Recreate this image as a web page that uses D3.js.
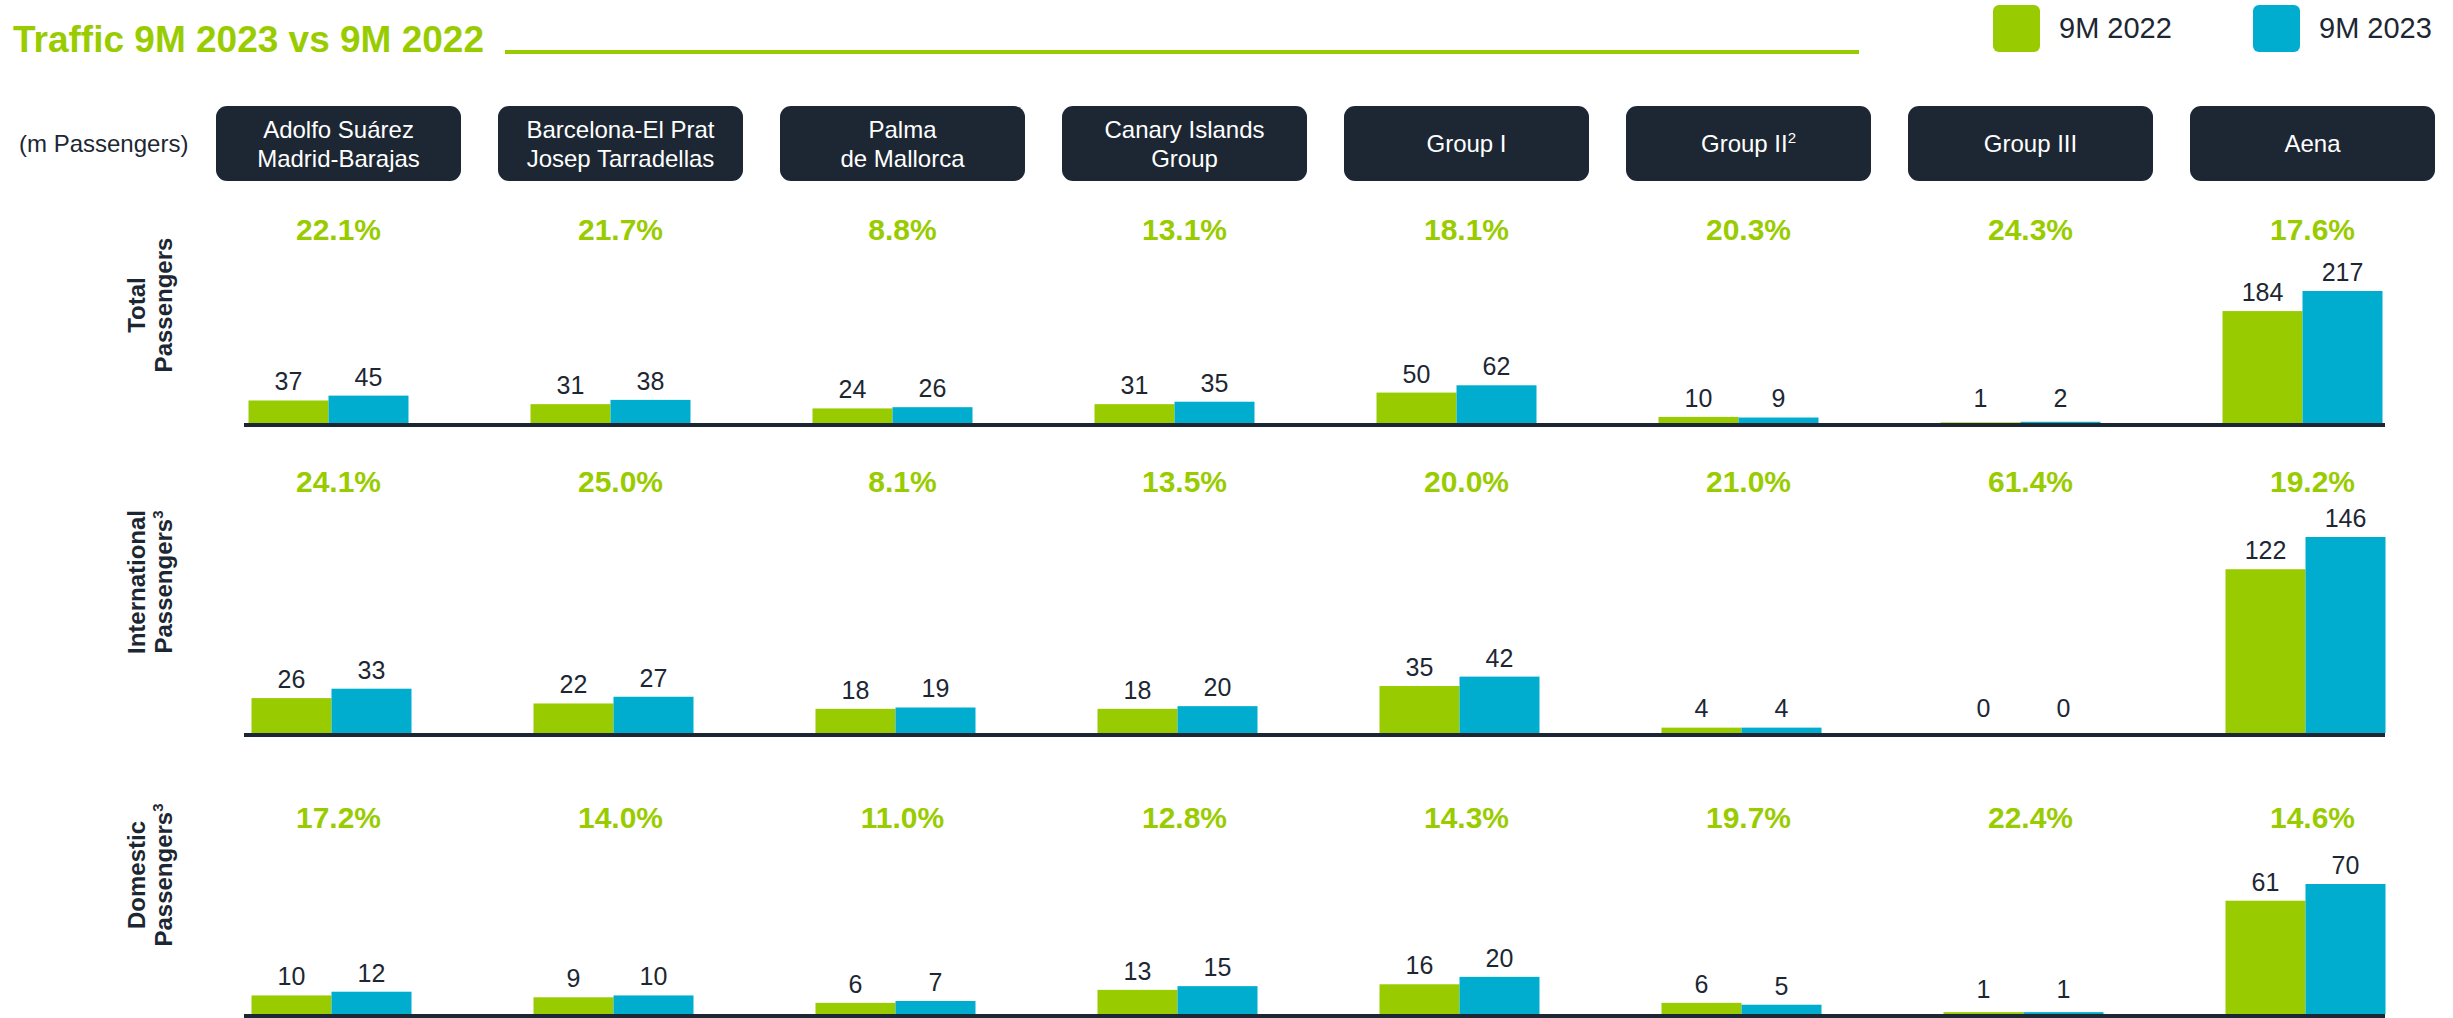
<!DOCTYPE html>
<html>
<head>
<meta charset="utf-8">
<script src="https://cdn.jsdelivr.net/npm/d3@7"></script>
<style>
  body { margin: 0; background: #fff; }
  text { font-family: "Liberation Sans", Arial, sans-serif; }
</style>
</head>
<body>
<div id="chart"></div>
<script>
var svgWidth = 2453;
var svgHeight = 1018;

// data
var airports = [
  ["Adolfo Suárez", "Madrid-Barajas"],
  ["Barcelona-El Prat", "Josep Tarradellas"],
  ["Palma", "de Mallorca"],
  ["Canary Islands", "Group"],
  ["Group I"],
  ["Group II", "2"],
  ["Group III"],
  ["Aena"]
];
var seriesNames = ["9M 2022", "9M 2023"];

var total2022 = [37, 31, 24, 31, 50, 10, 1, 184];
var total2023 = [45, 38, 26, 35, 62, 9, 2, 217];
var totalGrowth = ["22.1%", "21.7%", "8.8%", "13.1%", "18.1%", "20.3%", "24.3%", "17.6%"];

var intl2022 = [26, 22, 18, 18, 35, 4, 0, 122];
var intl2023 = [33, 27, 19, 20, 42, 4, 0, 146];
var intlGrowth = ["24.1%", "25.0%", "8.1%", "13.5%", "20.0%", "21.0%", "61.4%", "19.2%"];

var dom2022 = [10, 9, 6, 13, 16, 6, 1, 61];
var dom2023 = [12, 10, 7, 15, 20, 5, 1, 70];
var domGrowth = ["17.2%", "14.0%", "11.0%", "12.8%", "14.3%", "19.7%", "22.4%", "14.6%"];

var rowTitles = [["Total", "Passengers", ""], ["International", "Passengers", "3"], ["Domestic", "Passengers", "3"]];

var green = "#99CC00";
var blue = "#00ADCF";
var navy = "#1D2733";

var svg = d3.select("#chart")
  .append("svg")
  .attr("width", svgWidth)
  .attr("height", svgHeight);

// title + rule
svg.append("text")
  .attr("x", 13)
  .attr("y", 52)
  .attr("font-size", 37)
  .attr("font-weight", "bold")
  .attr("fill", green)
  .text("Traffic 9M 2023 vs 9M 2022");

svg.append("line")
  .attr("x1", 505).attr("x2", 1859)
  .attr("y1", 52).attr("y2", 52)
  .attr("stroke", green)
  .attr("stroke-width", 4);

// legend
var legend = svg.append("g");
var legendX = [1993, 2253];
seriesNames.forEach(function(name, i) {
  legend.append("rect")
    .attr("x", legendX[i]).attr("y", 5)
    .attr("width", 47).attr("height", 47)
    .attr("rx", 6)
    .attr("fill", i === 0 ? green : blue);
  legend.append("text")
    .attr("x", legendX[i] + 66)
    .attr("y", 38)
    .attr("font-size", 29)
    .attr("fill", navy)
    .text(name);
});

svg.append("text")
  .attr("x", 19)
  .attr("y", 152)
  .attr("font-size", 24)
  .attr("fill", navy)
  .text("(m Passengers)");

// x scales
var names = airports.map(d => d.join(" "));
var x0 = d3.scaleBand()
  .domain(names)
  .range([187.5, 187.5 + 282 * names.length]);
var pairWidth = 160;
var x1 = d3.scaleBand()
  .domain(seriesNames)
  .range([0, pairWidth]);

// header boxes
var boxW = 245;
var boxes = svg.selectAll(".box")
  .data(airports)
  .enter()
  .append("g")
  .attr("class", "box")
  .attr("transform", (d, i) => `translate(${x0(names[i]) + x0.bandwidth() / 2 + 10}, 0)`);

boxes.append("rect")
  .attr("x", -boxW / 2)
  .attr("y", 106)
  .attr("width", boxW)
  .attr("height", 75)
  .attr("rx", 11)
  .attr("fill", navy);

boxes.each(function(d, i) {
  var g = d3.select(this);
  if (i === 5) {
    var t = g.append("text")
      .attr("text-anchor", "middle")
      .attr("y", 152)
      .attr("font-size", 24)
      .attr("fill", "#fff");
    t.append("tspan").text(d[0]);
    t.append("tspan").attr("font-size", 15).attr("dy", -9).text(d[1]);
  } else if (d.length === 2) {
    g.append("text")
      .attr("text-anchor", "middle").attr("y", 138)
      .attr("font-size", 24).attr("fill", "#fff").text(d[0]);
    g.append("text")
      .attr("text-anchor", "middle").attr("y", 167)
      .attr("font-size", 24).attr("fill", "#fff").text(d[1]);
  } else {
    g.append("text")
      .attr("text-anchor", "middle").attr("y", 152)
      .attr("font-size", 24).attr("fill", "#fff").text(d[0]);
  }
});

// rows
var rows = [
  { v: [total2022, total2023], growth: totalGrowth, axisY: 423, plotH: 132, pctY: 240, shift: 0, labelY: 305 },
  { v: [intl2022, intl2023], growth: intlGrowth, axisY: 733, plotH: 196, pctY: 492, shift: 3, labelY: 582 },
  { v: [dom2022, dom2023], growth: domGrowth, axisY: 1014, plotH: 130, pctY: 828, shift: 3, labelY: 875 }
];

rows.forEach(function(row, r) {
  var yMax = d3.max(row.v[1].concat(row.v[0]));
  var y = d3.scaleLinear()
    .domain([0, yMax])
    .range([row.axisY, row.axisY - row.plotH]);

  var chartGroup = svg.append("g");

  // growth percentages
  chartGroup.selectAll(".pct")
    .data(row.growth)
    .enter()
    .append("text")
    .attr("x", (d, i) => x0(names[i]) + x0.bandwidth() / 2 + 10)
    .attr("y", row.pctY)
    .attr("text-anchor", "middle")
    .attr("font-size", 30)
    .attr("font-weight", "bold")
    .attr("fill", green)
    .text(d => d);

  // flatten bars
  var bars = [];
  names.forEach(function(n, i) {
    seriesNames.forEach(function(s, j) {
      bars.push({ cat: n, series: s, value: row.v[j][i] });
    });
  });
  var off = (x0.bandwidth() - pairWidth) / 2 + row.shift;

  chartGroup.selectAll("rect.bar")
    .data(bars)
    .enter()
    .append("rect")
    .attr("class", "bar")
    .attr("x", d => x0(d.cat) + off + x1(d.series))
    .attr("y", d => y(d.value))
    .attr("width", x1.bandwidth())
    .attr("height", d => row.axisY - y(d.value))
    .attr("fill", d => d.series === seriesNames[0] ? green : blue);

  chartGroup.selectAll("text.val")
    .data(bars)
    .enter()
    .append("text")
    .attr("class", "val")
    .attr("x", d => x0(d.cat) + off + x1(d.series) + x1.bandwidth() / 2)
    .attr("y", d => Math.min(y(d.value) - 10, row.axisY - 16))
    .attr("text-anchor", "middle")
    .attr("font-size", 25)
    .attr("fill", navy)
    .text(d => d.value);

  // baseline
  chartGroup.append("rect")
    .attr("x", 244)
    .attr("y", row.axisY)
    .attr("width", 2385 - 244)
    .attr("height", 4)
    .attr("fill", navy);

  // row title, rotated
  var lbl = chartGroup.append("g")
    .attr("transform", `translate(0, ${row.labelY}) rotate(-90)`);
  lbl.append("text")
    .attr("x", 0).attr("y", 145)
    .attr("text-anchor", "middle")
    .attr("font-size", 24).attr("font-weight", "bold")
    .attr("fill", navy)
    .text(rowTitles[r][0]);
  var t2 = lbl.append("text")
    .attr("x", 0).attr("y", 172)
    .attr("text-anchor", "middle")
    .attr("font-size", 24).attr("font-weight", "bold")
    .attr("fill", navy);
  t2.append("tspan").text(rowTitles[r][1]);
  if (rowTitles[r][2]) {
    t2.append("tspan").attr("font-size", 15).attr("dy", -9).text(rowTitles[r][2]);
  }
});
</script>
</body>
</html>
